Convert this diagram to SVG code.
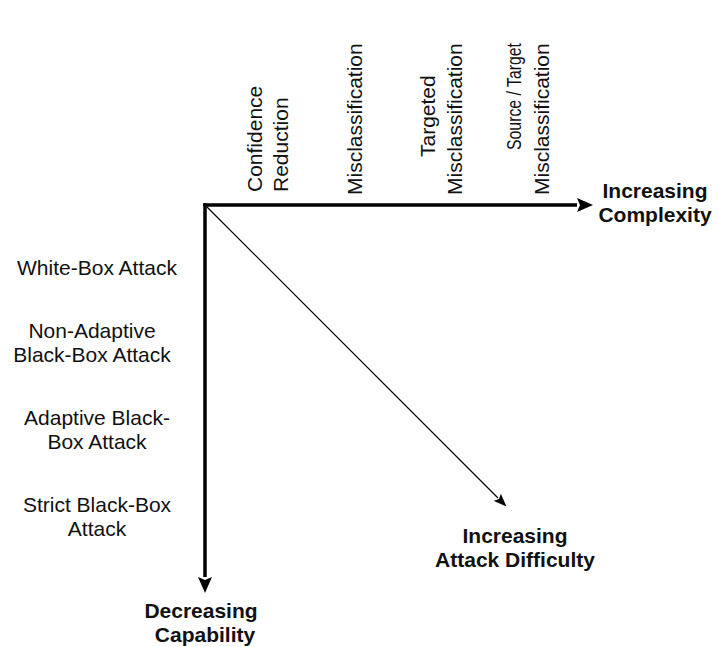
<svg xmlns="http://www.w3.org/2000/svg" width="718" height="647" viewBox="0 0 718 647">
  <style>
    text { font-family: "Liberation Sans", Arial, Helvetica, sans-serif; font-size: 21px; fill: #111; }
    .bold { font-weight: bold; }
    .mid { text-anchor: middle; }
    .axis { stroke: #000; stroke-width: 3.5; fill: none; }
    .diag { stroke: #000; stroke-width: 1.2; fill: none; }
  </style>
  <defs>
    <marker id="headBig" viewBox="0 0 16 14" refX="0" refY="7" markerWidth="16" markerHeight="14" markerUnits="userSpaceOnUse" orient="auto">
      <path d="M0,0 L16,7 L0,14 L3,7 Z" fill="#000"/>
    </marker>
    <marker id="headSmall" viewBox="0 0 13 10" refX="1" refY="5" markerWidth="13" markerHeight="10" markerUnits="userSpaceOnUse" orient="auto">
      <path d="M0,0 L13,5 L0,10 L2.5,5 Z" fill="#000"/>
    </marker>
  </defs>

  <rect width="718" height="647" fill="#fff"/>

  <!-- axes and difficulty diagonal -->
  <g id="connectors">
    <path class="axis" d="M203.3,205 H577" marker-end="url(#headBig)"/>
    <path class="axis" d="M205,203.3 V577" marker-end="url(#headBig)"/>
    <path class="diag" d="M205,205 L498,498" marker-end="url(#headSmall)"/>
  </g>

  <!-- goal categories along the horizontal axis -->
  <g id="goal-confidence-reduction">
    <text transform="translate(262,192) rotate(-90)">Confidence</text>
    <text transform="translate(288,192) rotate(-90)">Reduction</text>
  </g>
  <g id="goal-misclassification">
    <text transform="translate(362,195) rotate(-90)">Misclassification</text>
  </g>
  <g id="goal-targeted">
    <text transform="translate(435,157) rotate(-90)">Targeted</text>
    <text transform="translate(462,195) rotate(-90)">Misclassification</text>
  </g>
  <g id="goal-source-target">
    <text transform="translate(521,150) rotate(-90)" textLength="107" lengthAdjust="spacingAndGlyphs">Source / Target</text>
    <text transform="translate(549,195) rotate(-90)">Misclassification</text>
  </g>
  <g id="label-complexity">
    <text class="bold mid" x="655" y="198">Increasing</text>
    <text class="bold mid" x="655" y="222">Complexity</text>
  </g>

  <!-- adversary knowledge along the vertical axis -->
  <g id="cap-white-box">
    <text class="mid" x="97" y="275">White-Box Attack</text>
  </g>
  <g id="cap-non-adaptive">
    <text class="mid" x="92" y="338">Non-Adaptive</text>
    <text class="mid" x="92" y="362">Black-Box Attack</text>
  </g>
  <g id="cap-adaptive">
    <text class="mid" x="97" y="425">Adaptive Black-</text>
    <text class="mid" x="97" y="449">Box Attack</text>
  </g>
  <g id="cap-strict">
    <text class="mid" x="97" y="512">Strict Black-Box</text>
    <text class="mid" x="97" y="536">Attack</text>
  </g>
  <g id="label-capability">
    <text class="bold mid" x="201" y="618">Decreasing</text>
    <text class="bold mid" x="205" y="642">Capability</text>
  </g>

  <g id="label-difficulty">
    <text class="bold mid" x="515" y="543">Increasing</text>
    <text class="bold mid" x="515" y="567">Attack Difficulty</text>
  </g>
</svg>
